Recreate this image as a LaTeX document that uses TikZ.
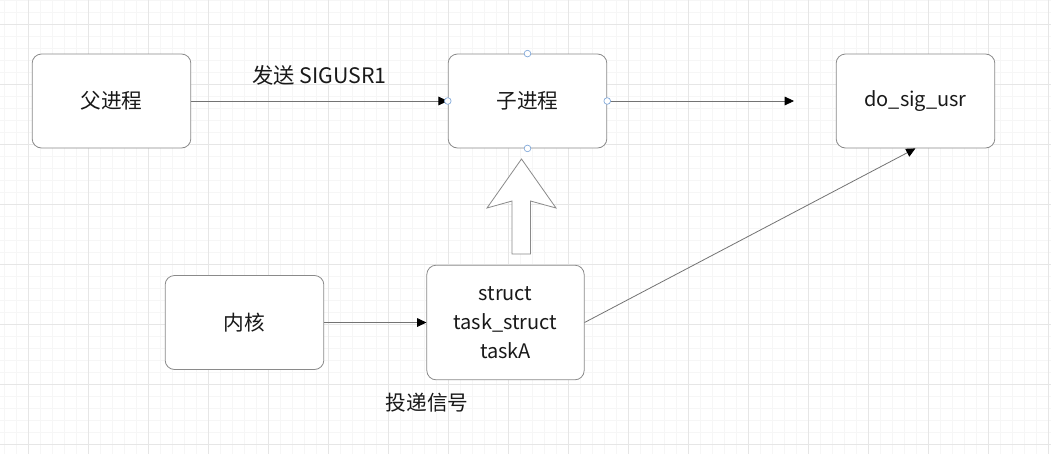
\documentclass[tikz,border=0pt]{standalone}
\usepackage{fontspec}
\setmainfont{Noto Sans CJK SC}
\usetikzlibrary{arrows.meta,positioning}
\definecolor{gridminor}{HTML}{F6F6F6}
\definecolor{gridmajor}{HTML}{E6E6E6}
\definecolor{boxline}{HTML}{8A8A8A}
\definecolor{handle}{HTML}{7FA7D9}
\tikzset{>={Triangle[length=7pt,width=6.5pt,black]}}
\newcommand{\cnfont}{\fontsize{15.5}{18}\selectfont}
\newcommand{\enfont}{\fontsize{15}{21.75}\selectfont}

\begin{document}
\begin{tikzpicture}[x=0.75pt,y=-0.75pt,
              proc/.style={draw=boxline, rounded corners=7pt, fill=white,
                           minimum width=119pt, minimum height=70.5pt,
                           text=black!90, line width=0.6pt},
              conn/.style={gray!90!black, line width=0.6pt, ->},
              hdl/.style={draw=handle, fill=white, line width=0.5pt, circle,
                          inner sep=0pt, minimum size=5pt},
             ]
\useasboundingbox (0,0) rectangle (1051,454);
\fill[white] (0,0) rectangle (1051,454);
% grid
\foreach \gx in {4,16,...,1051} \draw[gridminor] (\gx,0) -- (\gx,454);
\foreach \gy in {0,12,...,454} \draw[gridminor] (0,\gy) -- (1051,\gy);
\foreach \gx in {28,88,...,1051} \draw[gridmajor] (\gx,0) -- (\gx,454);
\foreach \gy in {24,84,...,454} \draw[gridmajor] (0,\gy) -- (1051,\gy);

\node[proc, font=\cnfont] (parent) at (111.5,101) {父进程};
\node[proc, font=\cnfont] (child) at (527.5,101) {子进程};
\node[proc, font=\enfont] (dosig) at (915.5,101) {do\_sig\_usr};
\node[proc, font=\cnfont] (kernel) at (244.5,322.5) {内核};
\node[proc, font=\enfont, minimum width=118pt, minimum height=86pt, align=center]
      (task) at (505.5,322.5) {struct\\task\_struct\\taskA};
\coordinate (sigend) at (794,101);

\draw[conn] (parent) -- (child)
      node[midway, above=8pt, text=black!90, font=\fontsize{16}{18}\selectfont] (sendlbl) {发送 SIGUSR1};
\draw[conn] (child) -- (sigend);
\draw[conn] (kernel) -- (task);
\draw[conn] (task.east) -- (dosig.south);
\node[text=black!90, font=\cnfont] (deliver) at (427,403) {投递信号};

% block arrow
\draw[boxline, fill=white, line width=0.6pt, line join=miter]
      (521.5,159) -- (556,208) -- (530.5,201) -- (530.5,254)
      -- (512,254) -- (512,201) -- (487,208) -- cycle;

\foreach \side in {north,south,west,east}
  \node[hdl] (h-\side) at (child.\side) {};
\end{tikzpicture}
\end{document}
